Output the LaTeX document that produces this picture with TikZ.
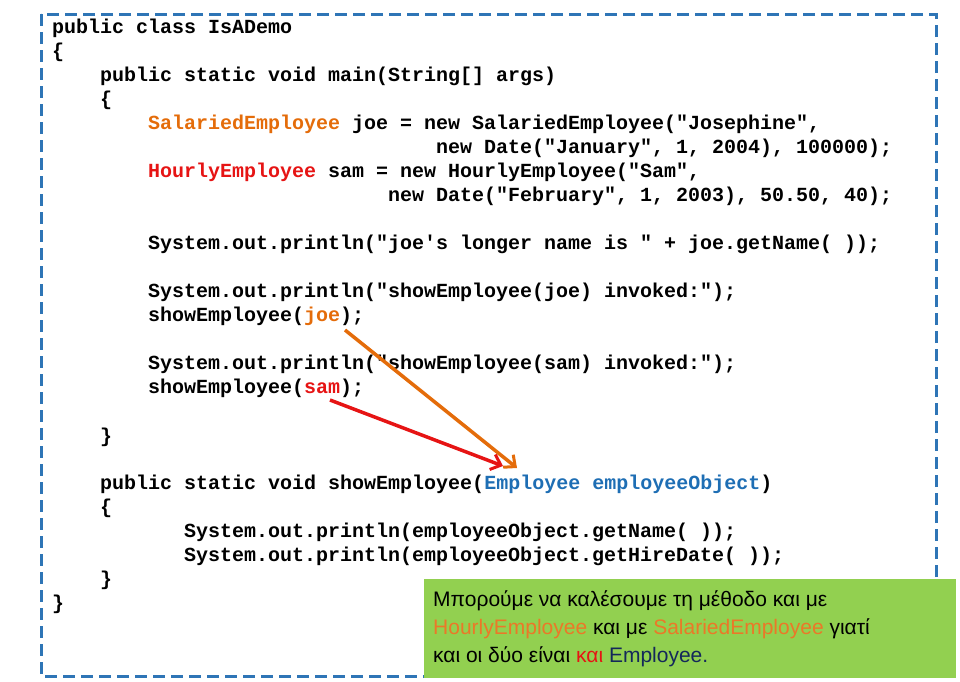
\documentclass[tikz,border=0pt]{standalone}
\usepackage{fontspec}
\setmainfont{Liberation Sans}
\newfontfamily\codefont{Liberation Mono}
\usetikzlibrary{arrows.meta}
\definecolor{frameblue}{RGB}{46,117,182}
\definecolor{codeorange}{RGB}{228,108,10}
\definecolor{codered}{RGB}{230,20,20}
\definecolor{codeblue}{RGB}{30,110,180}
\definecolor{boxgreen}{RGB}{146,208,80}
\definecolor{boxorange}{RGB}{235,120,40}
\definecolor{boxnavy}{RGB}{20,40,90}
\begin{document}
\begin{tikzpicture}[x=1pt,y=-1pt,
  code/.style={anchor=base west,inner sep=0pt,font=\codefont\bfseries\fontsize{20}{24}\selectfont},
  arr/.style={line width=3.5pt,-{Straight Barb[length=9pt,width=16pt,line width=3pt]}}]
\useasboundingbox (0,0) rectangle (960,681);
\draw[frameblue,line width=3pt,dash pattern=on 12pt off 6pt] (41,14) rectangle (936,676);
\newcommand{\cl}[3]{\node[code] (#1) at ({52+12*#2},#3) {#3};}
\node[code] (l1) at (52,33) {public class IsADemo};
\node[code] (l2) at (52,57) {\{};
\node[code] (l3) at (100,81) {public static void main(String[] args)};
\node[code] (l4) at (100,105) {\{};
\node[code] (l5) at (148,129) {\textcolor{codeorange}{SalariedEmployee} joe = new SalariedEmployee("Josephine",};
\node[code] (l6) at (436,153) {new Date("January", 1, 2004), 100000);};
\node[code] (l7) at (148,177) {\textcolor{codered}{HourlyEmployee} sam = new HourlyEmployee("Sam",};
\node[code] (l8) at (388,201) {new Date("February", 1, 2003), 50.50, 40);};
\node[code] (l9) at (148,249) {System.out.println("joe's longer name is " + joe.getName( ));};
\node[code] (l10) at (148,297) {System.out.println("showEmployee(joe) invoked:");};
\node[code] (l11) at (148,321) {showEmployee(\textcolor{codeorange}{joe});};
\node[code] (l12) at (148,369) {System.out.println("showEmployee(sam) invoked:");};
\node[code] (l13) at (148,393) {showEmployee(\textcolor{codered}{sam});};
\node[code] (l14) at (100,442) {\}};
\node[code] (l15) at (100,489) {public static void showEmployee(\textcolor{codeblue}{Employee employeeObject})};
\node[code] (l16) at (100,513) {\{};
\node[code] (l17) at (184,537) {System.out.println(employeeObject.getName( ));};
\node[code] (l18) at (184,561) {System.out.println(employeeObject.getHireDate( ));};
\node[code] (l19) at (100,585) {\}};
\node[code] (l20) at (52,609) {\}};
\coordinate (joeS) at (345,330);
\coordinate (samS) at (330,400);
\coordinate (empT) at (517,468);
\coordinate (empR) at (503,466);
\draw[arr,codeorange] (joeS) -- (empT);
\draw[arr,codered] (samS) -- (empR);
\fill[boxgreen] (424,579) rectangle (956,678);
\node[anchor=north west,inner sep=0pt,align=left,font=\fontsize{21}{28}\selectfont] (note) at (433,590)
 {Μπορούμε να καλέσουμε τη μέθοδο και με\\
 \textcolor{boxorange}{HourlyEmployee} και με \textcolor{boxorange}{SalariedEmployee} γιατί\\
 και οι δύο είναι \textcolor{codered}{και} \textcolor{boxnavy}{Employee.}};
\end{tikzpicture}
\end{document}
